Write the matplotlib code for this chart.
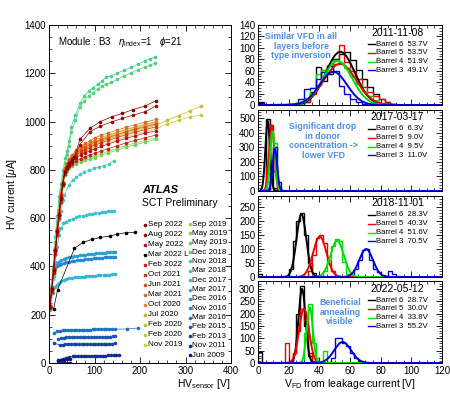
import numpy as np
import matplotlib
matplotlib.use("Agg")
import matplotlib.pyplot as plt
from matplotlib.lines import Line2D
from matplotlib.ticker import MultipleLocator

plt.rcParams["font.family"] = ["Liberation Sans", "DejaVu Sans"]
plt.rcParams["mathtext.fontset"] = "custom"
plt.rcParams["mathtext.rm"] = "Liberation Sans"
plt.rcParams["mathtext.it"] = "Liberation Sans:italic"

W, H = 450, 394

# ---------------- left panel: HV scans (x = HV [V], y = current [uA]) ----------------
X_BUNDLE = [2, 6, 10, 14, 18, 22, 26, 30, 35, 40, 45, 50, 60, 70, 80, 90, 100, 115, 130, 150, 170, 190, 212, 235]
X_LONG = X_BUNDLE + [260, 285, 310, 335]
X_DARK = [2, 6, 10, 14, 18, 22, 26, 30, 35, 40, 45, 50, 56, 68, 90, 113, 138, 161, 185, 211, 235]
X_TEAL = [3, 8, 14, 18, 22, 26, 31, 36, 40, 44, 49, 58, 68, 77, 87, 97, 107, 117, 126, 137, 150, 165, 181, 195, 210, 222, 234]
X_BLACK = [10, 19, 56, 75, 95, 113, 133, 150, 169, 188]
X_MAR18 = [2, 8, 14, 20, 26, 31, 34, 43, 52, 60, 69, 77, 88, 99, 110, 120, 131, 142]
X_DEC17 = [2, 6, 10, 14, 18, 22, 27, 31, 38, 45, 52, 60, 67, 74, 81, 88, 95, 102, 109, 116, 123, 130, 136, 142]
X_MAR17 = [3, 8, 13, 17, 22, 27, 32, 38, 45, 51, 57, 63, 70, 76, 82, 88, 95, 101, 107, 113, 120, 126, 132, 139, 145]
X_DEC16 = [3, 9, 14, 18, 23, 27, 32, 38, 44, 50, 56, 62, 68, 74, 80, 86, 92, 98, 104, 110, 116, 122, 128, 134, 140, 146]
X_MAR16 = [11, 18, 24, 30, 36, 42, 48, 54, 60, 66, 72, 78, 84, 90, 96, 102, 108, 114, 120, 126, 132, 138, 145, 172, 196]
X_FEB15 = [20, 26, 32, 38, 44, 50, 56, 62, 68, 74, 80, 86, 92, 98, 104, 110, 116, 122, 128, 134, 140, 146]
X_FEB13 = [11, 24, 30, 36, 42, 48, 54, 60, 66, 72, 78, 84, 90, 96, 102, 108, 114, 120, 126, 132, 138, 145]
X_NOV11 = [20, 25, 30, 37, 45, 52, 58, 64, 70, 76, 82, 88, 94, 100, 106, 112, 118, 124, 130, 136, 142, 148, 153]
X_JUN09 = [19, 26, 33, 40, 47]

Y_SEP22 = [232, 305, 385, 466, 545, 615, 684, 742, 792, 812, 828, 840, 854, 926, 972, 1000, 1020, 1034, 1050, 1064, 1086]
Y_AUG22 = [230, 302, 382, 462, 542, 612, 680, 740, 790, 808, 822, 834, 848, 905, 958, 981, 999, 1013, 1027, 1041, 1064]
Y_MAY22 = [232, 305, 385, 466, 545, 615, 684, 742, 792, 811, 826, 836, 851, 862, 871, 879, 887, 897, 907, 919, 931, 941, 952, 962]
Y_MAR22L = [222, 304, 475, 500, 512, 520, 526, 533, 540, 541]
Y_FEB22 = [228, 296, 372, 452, 530, 600, 668, 736, 784, 802, 816, 825, 837, 847, 855, 862, 868, 878, 888, 900, 912, 922, 933, 944]
Y_OCT21 = [235, 308, 390, 470, 550, 620, 690, 743, 796, 817, 833, 844, 861, 875, 884, 892, 902, 912, 922, 934, 946, 956, 967, 978]
Y_JUN21 = [238, 312, 392, 474, 555, 626, 696, 746, 800, 823, 839, 850, 870, 883, 894, 903, 914, 924, 934, 946, 958, 968, 979, 990]
Y_MAR21 = [242, 316, 396, 478, 560, 632, 704, 749, 806, 826, 846, 861, 883, 899, 910, 920, 933, 943, 953, 965, 977, 987, 998, 1009]
Y_OCT20 = [236, 310, 388, 468, 548, 618, 688, 748, 803, 827, 842, 856, 877, 891, 902, 912, 924, 934, 944, 956, 968, 978, 989, 1000]
Y_JUL20 = [234, 306, 384, 462, 542, 612, 682, 746, 801, 824, 839, 852, 872, 886, 895, 906, 917, 927, 937, 949, 961, 971, 982, 993]
Y_FEB20A = [234, 306, 384, 462, 542, 612, 684, 744, 798, 819, 835, 847, 866, 879, 888, 897, 907, 917, 927, 939, 951, 961, 972, 985, 1005, 1025, 1045, 1064]
Y_FEB20B = [232, 304, 382, 460, 540, 610, 680, 742, 792, 813, 828, 839, 856, 868, 876, 885, 893, 903, 913, 925, 937, 947, 958, 970, 990, 1006, 1020, 1027]
Y_NOV19 = [240, 314, 394, 476, 558, 630, 700, 747, 802, 826, 843, 854, 875, 889, 898, 908, 921, 931, 941, 953, 965, 975, 986, 997]
Y_SEP19 = [236, 308, 386, 468, 548, 620, 690, 745, 798, 818, 836, 848, 867, 880, 889, 898, 910, 920, 930, 942, 954, 964, 975, 986]
Y_MAY19A = [226, 294, 372, 450, 528, 598, 666, 734, 780, 800, 812, 822, 830, 841, 847, 852, 857, 867, 877, 889, 901, 911, 922, 933]
Y_MAY19B = [224, 292, 368, 446, 524, 594, 662, 733, 778, 796, 809, 818, 825, 832, 839, 846, 850, 860, 870, 882, 894, 904, 915, 926]
Y_DEC18 = [240, 370, 500, 590, 670, 720, 780, 830, 860, 900, 955, 1005, 1062, 1085, 1107, 1120, 1134, 1148, 1155, 1162, 1175, 1190, 1202, 1215, 1225, 1235, 1242]
Y_NOV18 = [240, 380, 520, 610, 690, 740, 800, 850, 880, 920, 978, 1027, 1075, 1105, 1126, 1140, 1155, 1170, 1183, 1190, 1200, 1213, 1225, 1238, 1250, 1260, 1268]
Y_MAR18 = [230, 350, 470, 560, 630, 675, 696, 737, 758, 771, 781, 792, 799, 806, 813, 817, 824, 838]
Y_DEC17 = [220, 290, 360, 420, 480, 530, 560, 578, 586, 592, 597, 603, 607, 610, 613, 616, 618, 620, 622, 624, 626, 628, 629, 631]
Y_MAR17 = [230, 290, 316, 325, 332, 338, 344, 348, 351, 353, 355, 356, 357, 358, 359, 360, 361, 362, 363, 364, 365, 366, 366, 367, 368]
Y_DEC16 = [300, 388, 405, 413, 420, 426, 430, 434, 437, 440, 442, 444, 446, 447, 449, 450, 452, 453, 454, 455, 456, 457, 458, 459, 460, 461]
Y_NOV16 = [290, 375, 392, 400, 405, 410, 414, 417, 420, 422, 424, 426, 427, 428, 430, 431, 432, 433, 434, 435, 436, 437, 438, 438, 439, 440]
Y_MAR16 = [125, 132, 134, 135, 136, 136, 137, 137, 137, 138, 138, 138, 138, 138, 139, 139, 139, 139, 139, 139, 140, 140, 140, 141, 145]
Y_FEB15 = [100, 104, 105, 106, 106, 107, 107, 107, 108, 108, 108, 108, 108, 109, 109, 109, 109, 109, 109, 109, 110, 110]
Y_FEB13 = [82, 75, 76, 77, 77, 78, 78, 78, 78, 79, 79, 79, 79, 79, 79, 80, 80, 80, 80, 80, 80, 81]
Y_NOV11 = [8, 14, 18, 22, 25, 27, 28, 28, 29, 29, 30, 30, 30, 30, 31, 31, 31, 31, 32, 32, 32, 32, 33]
Y_JUN09 = [0, 0, 0, 0, 0]
Y_JUN09B = [12, 13, 14, 15, 16]

# (legend label, colour, x, y) in legend order
SCANS = [
    ("Sep 2022", "#8a0000", X_DARK, Y_SEP22),
    ("Aug 2022", "#9c0808", X_DARK, Y_AUG22),
    ("May 2022", "#b41212", X_BUNDLE, Y_MAY22),
    ("Mar 2022 L", "#000000", X_BLACK, Y_MAR22L),
    ("Feb 2022", "#c81c1c", X_BUNDLE, Y_FEB22),
    ("Oct 2021", "#d42e18", X_BUNDLE, Y_OCT21),
    ("Jun 2021", "#dc4c18", X_BUNDLE, Y_JUN21),
    ("Mar 2021", "#e0681c", X_BUNDLE, Y_MAR21),
    ("Oct 2020", "#e08822", X_BUNDLE, Y_OCT20),
    ("Jul 2020", "#d8a228", X_BUNDLE, Y_JUL20),
    ("Feb 2020", "#ccb82a", X_LONG, Y_FEB20A),
    ("Feb 2020", "#c4cc30", X_LONG, Y_FEB20B),
    ("Nov 2019", "#b2dc36", X_BUNDLE, Y_NOV19),
    ("Sep 2019", "#9cd63e", X_BUNDLE, Y_SEP19),
    ("May 2019", "#84d24c", X_BUNDLE, Y_MAY19A),
    ("May 2019", "#6ccf5c", X_BUNDLE, Y_MAY19B),
    ("Dec 2018", "#58d078", X_TEAL, Y_DEC18),
    ("Nov 2018", "#48cc90", X_TEAL, Y_NOV18),
    ("Mar 2018", "#40cab8", X_MAR18, Y_MAR18),
    ("Dec 2017", "#38c0cc", X_DEC17, Y_DEC17),
    ("Mar 2017", "#34b4d4", X_MAR17, Y_MAR17),
    ("Dec 2016", "#2a9cd8", X_DEC16, Y_DEC16),
    ("Nov 2016", "#2288d4", X_DEC16, Y_NOV16),
    ("Mar 2016", "#1c70c8", X_MAR16, Y_MAR16),
    ("Feb 2015", "#1858b4", X_FEB15, Y_FEB15),
    ("Feb 2013", "#1444a2", X_FEB13, Y_FEB13),
    ("Nov 2011", "#0e2e90", X_NOV11, Y_NOV11),
    ("Jun 2009", "#0a1c78", X_JUN09, Y_JUN09),
]

# ---------------- right panels: VFD histograms ----------------
DATES = ["2011-11-08", "2017-03-17", "2018-11-01", "2022-05-12"]
BARRELS = ["Barrel 6", "Barrel 5", "Barrel 4", "Barrel 3"]
VFD = [["53.7V", "53.5V", "51.9V", "49.1V"],
       ["6.3V", "9.0V", "9.5V", "11.0V"],
       ["28.3V", "40.3V", "51.6V", "70.5V"],
       ["28.7V", "30.0V", "33.8V", "55.2V"]]
BIN_W = [3.75, 2.5, 2.5, 2.5]
YMAX = [140, 555, 290, 332]
Y_MAJOR = [20, 100, 50, 50]
Y_MINOR = [5, 20, 10, 10]

# counts: (first bin index, values) for Barrel 6, 5, 4, 3
COUNTS = [
    [(0, [3, 0, 0, 0, 0, 0, 0, 2, 6, 22, 66, 42, 55, 80, 90, 92, 78, 62, 45, 32, 20, 10, 5, 2]),
     (0, [2, 0, 0, 0, 0, 0, 0, 0, 5, 20, 35, 62, 68, 72, 105, 76, 60, 45, 32, 22, 15, 10, 6, 2]),
     (0, [0, 0, 0, 0, 0, 0, 0, 2, 12, 30, 55, 62, 70, 78, 74, 64, 50, 36, 25, 15, 8, 3, 1]),
     (0, [5, 0, 0, 0, 0, 0, 2, 10, 28, 30, 46, 58, 68, 60, 34, 20, 10, 5, 2])],
    [(2, [490, 160, 20]),
     (2, [170, 450, 140, 15]),
     (2, [60, 400, 330, 30]),
     (2, [5, 120, 300, 60, 10])],
    [(0, [10, 0, 0, 0, 0, 0, 0, 0, 30, 130, 200, 230, 150, 50, 15, 5]),
     (13, [20, 80, 140, 150, 120, 60, 20, 5]),
     (17, [20, 60, 110, 135, 130, 55, 10]),
     (24, [5, 30, 60, 95, 100, 60, 30, 18, 8, 3, 20, 10, 3])],
    [(0, [45, 0, 0, 0, 0, 0, 0, 0, 0, 40, 200, 310, 150, 30, 5]),
     (7, [80, 10, 40, 130, 220, 170, 40, 10]),
     (12, [120, 240, 80, 20, 5, 50]),
     (18, [5, 20, 100, 100, 80, 70, 40, 20, 10, 5])],
]
# gaussian fit parameters (amplitude, mean, sigma)
FITS = [
    [(93, 53.7, 9.5), (72, 53.5, 10.5), (77, 51.9, 9.5), (58, 49.1, 9.0)],
    [(480, 6.3, 1.5), (450, 9.0, 1.7), (410, 9.5, 1.6), (290, 11.0, 1.5)],
    [(225, 28.3, 3.2), (145, 40.3, 4.3), (130, 51.6, 4.3), (100, 70.5, 4.5)],
    [(300, 28.7, 2.3), (220, 30.0, 3.2), (225, 33.8, 2.0), (85, 55.2, 5.5)],
]
HCOLORS = ["#000000", "#ee0000", "#00dd00", "#0000dd"]
NOTES = [(0, 301, 32, "Similar VFD in all\nlayers before\ntype inversion"),
         (1, 323, 122, "Significant drop\nin donor\nconcentration ->\nlower VFD"),
         (3, 340, 298, "Beneficial\nannealing\nvisible")]
NOTE_COLOR = "#4a8ee6"


def fx(px):
    return px / W


def fy(py):
    return 1 - py / H


def style_ticks(ax):
    ax.tick_params(which="both", direction="in", top=True, right=True, labelsize=7, pad=2)
    ax.tick_params(which="major", length=4, width=0.6)
    ax.tick_params(which="minor", length=2, width=0.5)
    for s in ax.spines.values():
        s.set_linewidth(0.7)


fig = plt.figure(figsize=(W / 100, H / 100), dpi=100)

# ---- left panel ----
ax = fig.add_axes([fx(49), fy(363), (231 - 49) / W, (363 - 25) / H])
for label, c, xs, ys in reversed(SCANS):
    ax.plot(xs, ys, "-o", color=c, lw=0.5, ms=2.6, mew=0)
ax.plot(X_JUN09, Y_JUN09B, "-o", color="#0a1c78", lw=0.5, ms=2.6, mew=0)
ax.set_xlim(0, 400)
ax.set_ylim(0, 1400)
ax.xaxis.set_major_locator(MultipleLocator(100))
ax.xaxis.set_minor_locator(MultipleLocator(20))
ax.yaxis.set_major_locator(MultipleLocator(200))
ax.yaxis.set_minor_locator(MultipleLocator(50))
style_ticks(ax)
fig.text(fx(12), fy(194), r"HV current [$\mu$A]", rotation=90, ha="center", va="center", fontsize=7.5)
fig.text(fx(231), fy(384), r"HV$_{\rm sensor}$ [V]", ha="right", va="center", fontsize=7.5)
fig.text(fx(58), fy(42), r"Module : B3   $\eta_{\rm index}$=1   $\phi$=21", ha="left", va="center", fontsize=7)
fig.text(fx(142), fy(190), "ATLAS", ha="left", va="center", fontsize=8, fontweight="bold", style="italic")
fig.text(fx(142), fy(203), "SCT Preliminary", ha="left", va="center", fontsize=7.5)

# manual two-column legend
for i, (label, c, xs, ys) in enumerate(SCANS):
    if i < 13:
        mx, py = 145, 224.7 + i * 10.0
    else:
        mx, py = 190, 224 + (i - 13) * 9.36
    fig.add_artist(Line2D([fx(mx)], [fy(py)], marker="o", ms=2.6, mew=0, color=c, ls="none"))
    fig.text(fx(mx + 2.5), fy(py), label, ha="left", va="center", fontsize=5.8)

# ---- right panels ----
PANELS = [(25, 105), (110, 191), (196, 277), (281, 363)]
xfine = np.linspace(0, 120, 600)
for p, (top, bot) in enumerate(PANELS):
    axr = fig.add_axes([fx(258), fy(bot), (442 - 258) / W, (bot - top) / H])
    nb = int(round(120 / BIN_W[p]))
    edges = np.linspace(0, 120, nb + 1)
    for k in range(4):
        start, vals = COUNTS[p][k]
        full = np.zeros(nb)
        full[start:start + len(vals)] = vals
        if p == 1 and k == 0:
            axr.stairs(full, edges, color="#bbbbbb", fill=True, alpha=0.6)
        axr.stairs(full, edges, color=HCOLORS[k], lw=1.0)
    for k in range(4):
        a, m, s = FITS[p][k]
        axr.plot(xfine, a * np.exp(-0.5 * ((xfine - m) / s) ** 2), color=HCOLORS[k], lw=1.4)
    axr.set_xlim(0, 120)
    axr.set_ylim(0, YMAX[p])
    axr.xaxis.set_major_locator(MultipleLocator(20))
    axr.xaxis.set_minor_locator(MultipleLocator(5))
    axr.yaxis.set_major_locator(MultipleLocator(Y_MAJOR[p]))
    axr.yaxis.set_minor_locator(MultipleLocator(Y_MINOR[p]))
    style_ticks(axr)
    if p < 3:
        axr.set_xticklabels([])
    fig.text(fx(424), fy(top + 7.5), DATES[p], ha="right", va="center", fontsize=7.5)
    for k in range(4):
        py = top + 19 + k * 8.8
        fig.add_artist(Line2D([fx(368), fx(374.5)], [fy(py), fy(py)], color=HCOLORS[k], lw=1.0))
        fig.text(fx(375.5), fy(py), f"{BARRELS[k]}  {VFD[p][k]}", ha="left", va="center", fontsize=5.6)

for p, cx, cy, txt in NOTES:
    fig.text(fx(cx), fy(cy), txt, ha="center", va="top", fontsize=6.3, fontweight="bold",
             color=NOTE_COLOR, linespacing=1.1)

fig.text(fx(350), fy(384), r"V$_{\rm FD}$ from leakage current [V]", ha="center", va="center", fontsize=7.5)

plt.savefig("out.png", dpi=100)
print("Saved out.png")
